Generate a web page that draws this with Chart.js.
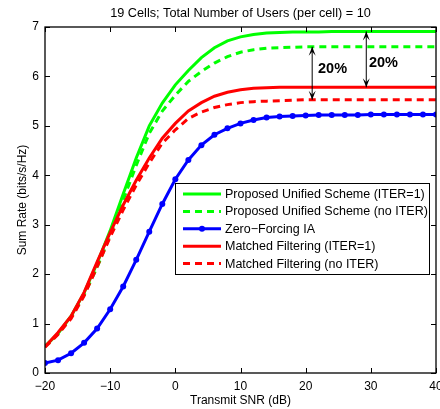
<!DOCTYPE html>
<html>
<head>
<meta charset="utf-8">
<script src="https://cdn.jsdelivr.net/npm/chart.js@4.4.0/dist/chart.umd.min.js"></script>
<style>
    html, body { margin: 0; padding: 0; background: #ffffff; }
</style>
</head>
<body>
<canvas id="rateChart" width="440" height="409"></canvas>
<script>
// SNR points (dB)
const snr = [-20, -18, -16, -14, -12, -10, -8, -6, -4, -2, 0, 2, 4, 6, 8, 10, 12, 14, 16, 18, 20, 22, 24, 26, 28, 30, 32, 34, 36, 38, 40];

// Sum rate (bits/s/Hz)
const unifiedIter = [0.54, 0.80, 1.15, 1.62, 2.22, 2.88, 3.62, 4.35, 5.00, 5.46, 5.83, 6.12, 6.38, 6.58, 6.72, 6.80, 6.85, 6.88, 6.89, 6.90, 6.90, 6.90, 6.91, 6.91, 6.91, 6.91, 6.91, 6.91, 6.91, 6.91, 6.91];
const unifiedNoIter = [0.54, 0.79, 1.13, 1.58, 2.14, 2.78, 3.50, 4.20, 4.85, 5.30, 5.62, 5.90, 6.10, 6.27, 6.40, 6.49, 6.54, 6.57, 6.58, 6.59, 6.60, 6.60, 6.60, 6.60, 6.60, 6.60, 6.60, 6.60, 6.60, 6.60, 6.60];
const zeroForcing = [0.20, 0.26, 0.40, 0.61, 0.90, 1.29, 1.75, 2.29, 2.86, 3.42, 3.92, 4.31, 4.61, 4.82, 4.95, 5.05, 5.12, 5.17, 5.19, 5.20, 5.21, 5.22, 5.22, 5.22, 5.22, 5.23, 5.23, 5.23, 5.23, 5.23, 5.23];
const matchedIter = [0.53, 0.82, 1.15, 1.63, 2.25, 2.84, 3.40, 3.90, 4.35, 4.75, 5.05, 5.30, 5.47, 5.60, 5.68, 5.73, 5.76, 5.77, 5.78, 5.78, 5.78, 5.78, 5.78, 5.78, 5.78, 5.78, 5.78, 5.78, 5.78, 5.78, 5.78];
const matchedNoIter = [0.52, 0.78, 1.10, 1.56, 2.15, 2.75, 3.30, 3.80, 4.25, 4.65, 4.92, 5.15, 5.28, 5.37, 5.43, 5.47, 5.49, 5.50, 5.51, 5.52, 5.53, 5.53, 5.53, 5.53, 5.53, 5.53, 5.53, 5.53, 5.53, 5.53, 5.53];

const seriesLabels = [
    'Proposed Unified Scheme (ITER=1)',
    'Proposed Unified Scheme (no ITER)',
    'Zero\u2212Forcing IA',
    'Matched Filtering (ITER=1)',
    'Matched Filtering (no ITER)'
];

// Tick labels
const xTicks = [-20, -10, 0, 10, 20, 30, 40];
const xTickLabels = ['\u221220', '\u221210', '0', '10', '20', '30', '40'];
const yTicks = [0, 1, 2, 3, 4, 5, 6, 7];
const yTickLabels = ['0', '1', '2', '3', '4', '5', '6', '7'];

// "20%" gap arrows: [snr, from, to, label snr, label rate]
const gapArrows = [
    [21.0, 6.60, 5.53, 21.9, 6.15],
    [29.3, 6.91, 5.78, 29.7, 6.28]
];

const FONT = '"Liberation Sans", Arial, Helvetica, sans-serif';

function toPoints(values) {
    return snr.map((s, i) => ({ x: s, y: values[i] }));
}

function makeDataset(label, values, color, dashed, marker) {
    return {
        label: label,
        data: toPoints(values),
        borderColor: color,
        backgroundColor: color,
        borderWidth: 3,
        borderDash: dashed ? [7, 5] : [],
        pointRadius: marker ? 3 : 0,
        pointStyle: 'circle',
        pointBorderWidth: 0,
        tension: 0,
        fill: false
    };
}

const datasets = [
    makeDataset(seriesLabels[0], unifiedIter, '#00ff00', false, false),
    makeDataset(seriesLabels[1], unifiedNoIter, '#00ff00', true, false),
    makeDataset(seriesLabels[2], zeroForcing, '#0000ff', false, true),
    makeDataset(seriesLabels[3], matchedIter, '#ff0000', false, false),
    makeDataset(seriesLabels[4], matchedNoIter, '#ff0000', true, false)
];
// later series on top, like the original plot
datasets.forEach((d, i) => { d.order = datasets.length - i; });

// Frame, inner ticks, arrows, legend and title
const decorPlugin = {
    id: 'decor',
    afterDatasetsDraw(chart) {
        const { ctx, chartArea: a, scales: { x, y } } = chart;
        ctx.save();

        // axes box with inward ticks on all sides
        ctx.strokeStyle = '#000000';
        ctx.lineWidth = 1;
        ctx.beginPath();
        xTicks.forEach(v => {
            const px = Math.round(x.getPixelForValue(v)) + 0.5;
            ctx.moveTo(px, a.bottom); ctx.lineTo(px, a.bottom - 5);
            ctx.moveTo(px, a.top); ctx.lineTo(px, a.top + 5);
        });
        yTicks.forEach(v => {
            const py = Math.round(y.getPixelForValue(v)) + 0.5;
            ctx.moveTo(a.left, py); ctx.lineTo(a.left + 5, py);
            ctx.moveTo(a.right, py); ctx.lineTo(a.right - 5, py);
        });
        ctx.stroke();
        ctx.lineWidth = 1.3;
        ctx.strokeRect(a.left, a.top, a.right - a.left, a.bottom - a.top);

        // double arrows with labels
        ctx.lineWidth = 1;
        ctx.fillStyle = '#000000';
        gapArrows.forEach(([s, from, to, ls, lr]) => {
            const px = x.getPixelForValue(s);
            const y1 = y.getPixelForValue(from);
            const y2 = y.getPixelForValue(to);
            ctx.beginPath();
            ctx.moveTo(px, y1); ctx.lineTo(px, y2);
            ctx.stroke();
            drawHead(ctx, px, y1, 1);
            drawHead(ctx, px, y2, -1);
            ctx.font = 'bold 14.5px ' + FONT;
            ctx.textAlign = 'left';
            ctx.textBaseline = 'middle';
            ctx.fillText('20%', x.getPixelForValue(ls), y.getPixelForValue(lr));
        });

        // legend box
        const lx = 175, ly = 183, lw = 254, lh = 91;
        ctx.fillStyle = '#ffffff';
        ctx.fillRect(lx, ly, lw, lh);
        ctx.strokeStyle = '#000000';
        ctx.lineWidth = 1;
        ctx.strokeRect(lx + 0.5, ly + 0.5, lw, lh);
        chart.data.datasets.forEach((d, i) => {
            const ry = ly + 11 + i * 17.4;
            ctx.strokeStyle = d.borderColor;
            ctx.lineWidth = 3;
            ctx.setLineDash(d.borderDash);
            ctx.beginPath();
            ctx.moveTo(183, ry); ctx.lineTo(221, ry);
            ctx.stroke();
            ctx.setLineDash([]);
            if (d.pointRadius > 0) {
                ctx.fillStyle = d.borderColor;
                ctx.beginPath();
                ctx.arc(202, ry, d.pointRadius, 0, Math.PI * 2);
                ctx.fill();
            }
            ctx.fillStyle = '#000000';
            ctx.font = '12.5px ' + FONT;
            ctx.textAlign = 'left';
            ctx.textBaseline = 'middle';
            ctx.fillText(d.label, 225, ry + 0.5);
        });

        // title
        ctx.fillStyle = '#000000';
        ctx.font = '12.7px ' + FONT;
        ctx.textAlign = 'center';
        ctx.textBaseline = 'middle';
        ctx.fillText('19 Cells; Total Number of Users (per cell) = 10', (a.left + a.right) / 2, 13);

        ctx.restore();
    }
};

function drawHead(ctx, px, py, dir) {
    // dir 1: pointing up, -1: pointing down
    ctx.beginPath();
    ctx.moveTo(px - 3.5, py + dir * 9);
    ctx.lineTo(px, py);
    ctx.lineTo(px + 3.5, py + dir * 9);
    ctx.lineTo(px, py + dir * 5);
    ctx.closePath();
    ctx.fill();
}

const ctx = document.getElementById('rateChart');
const rateChart = new Chart(ctx, {
    type: 'line',
    data: { datasets: datasets },
    options: {
        responsive: false,
        animation: false,
        events: [],
        layout: { padding: { top: 27, right: 2, left: 0, bottom: 0 } },
        plugins: {
            legend: { display: false },
            tooltip: { enabled: false },
            title: { display: false }
        },
        scales: {
            x: {
                type: 'linear',
                min: -20,
                max: 40,
                grid: { display: false, drawTicks: false },
                border: { display: false },
                afterBuildTicks: (scale) => { scale.ticks = xTicks.map(v => ({ value: v })); },
                ticks: {
                    color: '#000000',
                    padding: 6,
                    maxRotation: 0,
                    autoSkip: false,
                    font: { family: FONT, size: 12 },
                    callback: (v) => xTickLabels[xTicks.indexOf(v)]
                },
                title: {
                    display: true,
                    text: 'Transmit SNR (dB)',
                    color: '#000000',
                    font: { family: FONT, size: 12 },
                    padding: { top: 0, bottom: 1 }
                },
                afterFit: (scale) => {
                    scale.height = 36;
                    scale.paddingLeft = 0;
                    scale.paddingRight = 0;
                }
            },
            y: {
                type: 'linear',
                min: 0,
                max: 7,
                grid: { display: false, drawTicks: false },
                border: { display: false },
                afterBuildTicks: (scale) => { scale.ticks = yTicks.map(v => ({ value: v })); },
                ticks: {
                    color: '#000000',
                    padding: 6,
                    autoSkip: false,
                    font: { family: FONT, size: 12 },
                    callback: (v) => yTickLabels[yTicks.indexOf(v)]
                },
                title: {
                    display: true,
                    text: 'Sum Rate (bits/s/Hz)',
                    color: '#000000',
                    font: { family: FONT, size: 12 },
                    padding: { top: 15, bottom: 0 }
                },
                afterFit: (scale) => {
                    scale.width = 45;
                }
            }
        }
    },
    plugins: [decorPlugin]
});
</script>
</body>
</html>
